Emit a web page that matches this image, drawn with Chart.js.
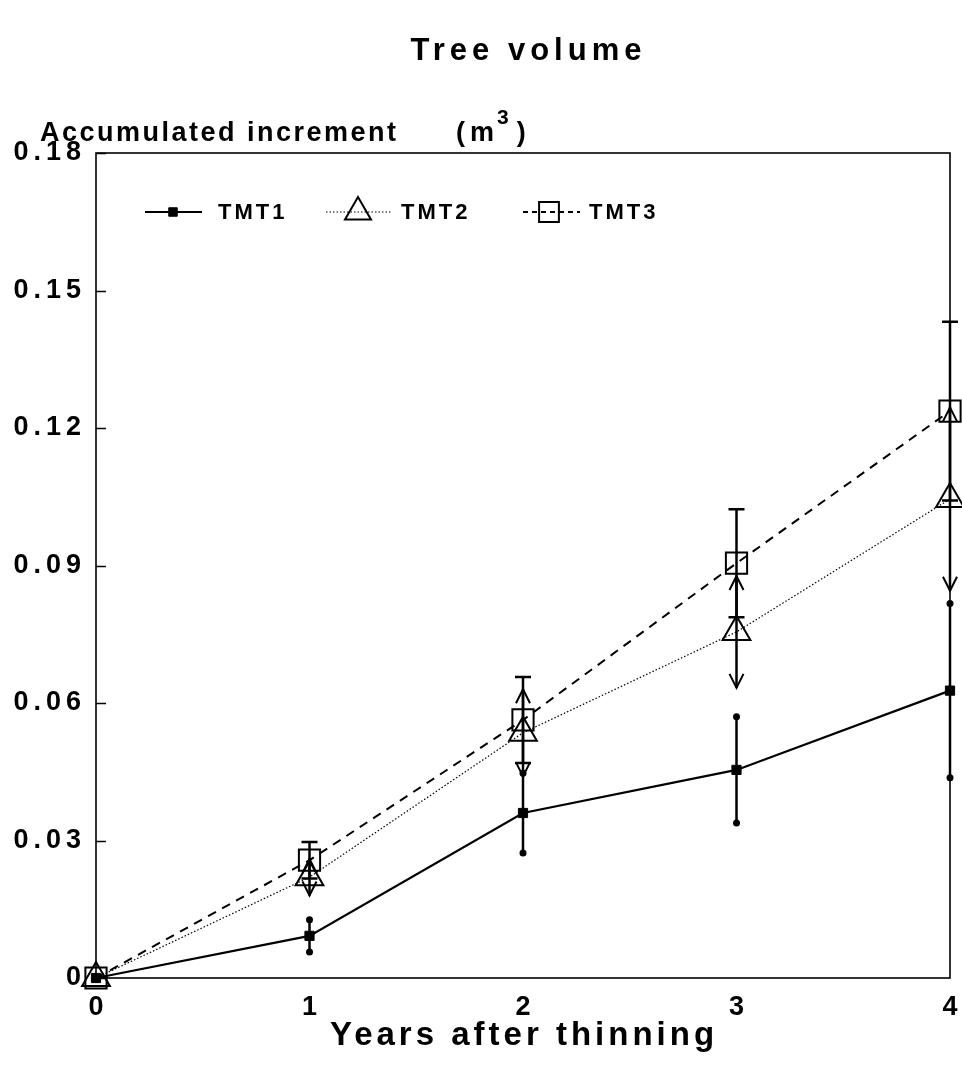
<!DOCTYPE html>
<html>
<head>
<meta charset="utf-8">
<script src="https://cdn.jsdelivr.net/npm/chart.js@4"></script>
<style>
  html, body { margin: 0; padding: 0; background: #fff; }
  #wrap { width: 962px; height: 1075px; }
</style>
</head>
<body>
<div id="wrap"><canvas id="c" width="962" height="1075"></canvas></div>
<script>
// Years after thinning
const years = [0, 1, 2, 3, 4];

// Accumulated volume increment (m3) per treatment
const tmt1 = [0, 0.0092, 0.0360, 0.0454, 0.0627];
const tmt2 = [0, 0.0220, 0.0535, 0.0755, 0.1045];
const tmt3 = [0, 0.0257, 0.0563, 0.0905, 0.1237];

// Half-widths of the error bars
const tmt1Err = [0, 0.0035, 0.0087, 0.0116, 0.0190];
const tmt2Err = [0, 0.0040, 0.0095, 0.0122, 0.0200];
const tmt3Err = [0, 0.0040, 0.0094, 0.0118, 0.0195];

const yTicks = [0, 0.03, 0.06, 0.09, 0.12, 0.15, 0.18];
const xTicks = [0, 1, 2, 3, 4];

const seriesNames = ['TMT1', 'TMT2', 'TMT3'];

const FONT = '"Liberation Sans", Arial, sans-serif';

// plot frame edges on the page
const FRAME = { left: 96, right: 950, top: 153, bottom: 978 };

function pts(vals) { return years.map((x, i) => ({ x: x, y: vals[i] })); }

// Wide tracking for the tick labels
const tracking = {
  id: 'tracking',
  beforeDraw(chart) { chart.ctx.letterSpacing = '5px'; },
  beforeDatasetsDraw(chart) { chart.ctx.letterSpacing = '0px'; }
};

// Keep the plot frame at fixed page edges
const frameFix = {
  id: 'frameFix',
  afterLayout(chart) {
    const a = chart.chartArea, xs = chart.scales.x;
    a.right = FRAME.right; a.width = FRAME.right - a.left;
    xs.right = FRAME.right; xs.width = FRAME.right - xs.left;
    xs.configure();
  }
};

// Error bars, each series with its own end style
const errorBars = {
  id: 'errorBars',
  afterDatasetsDraw(chart) {
    const ctx = chart.ctx, xs = chart.scales.x, ys = chart.scales.y;
    chart.data.datasets.forEach(ds => {
      const err = ds.errors;
      ds.data.forEach((p, i) => {
        if (!err[i]) return;
        const px = xs.getPixelForValue(p.x);
        const top = ys.getPixelForValue(p.y + err[i]);
        const bot = ys.getPixelForValue(p.y - err[i]);
        ctx.save();
        ctx.strokeStyle = '#000'; ctx.fillStyle = '#000';
        ctx.lineWidth = 2.5;
        ctx.beginPath(); ctx.moveTo(px, top); ctx.lineTo(px, bot); ctx.stroke();
        if (ds.errStyle === 'dot') {
          [top, bot].forEach(yy => { ctx.beginPath(); ctx.arc(px, yy, 3.5, 0, Math.PI * 2); ctx.fill(); });
        } else if (ds.errStyle === 'arrow') {
          ctx.lineWidth = 2;
          ctx.beginPath();
          ctx.moveTo(px - 7, top + 14); ctx.lineTo(px, top); ctx.lineTo(px + 7, top + 14);
          ctx.moveTo(px - 7, bot - 14); ctx.lineTo(px, bot); ctx.lineTo(px + 7, bot - 14);
          ctx.stroke();
        } else {
          ctx.lineWidth = 2.5;
          ctx.beginPath();
          ctx.moveTo(px - 8, top); ctx.lineTo(px + 8, top);
          ctx.moveTo(px - 8, bot); ctx.lineTo(px + 8, bot);
          ctx.stroke();
        }
        ctx.restore();
      });
    });
  }
};

// Frame, inward ticks, titles and legend
const decor = {
  id: 'decor',
  afterDraw(chart) {
    const ctx = chart.ctx, a = chart.chartArea, ys = chart.scales.y;
    ctx.save();
    ctx.strokeStyle = '#000'; ctx.lineWidth = 1.6;
    ctx.strokeRect(a.left, a.top, a.right - a.left, a.bottom - a.top);
    ctx.beginPath();
    yTicks.forEach(v => {
      const py = Math.round(ys.getPixelForValue(v)) + 0.5;
      ctx.moveTo(a.left, py); ctx.lineTo(a.left + 10, py);
    });
    ctx.lineWidth = 1.4;
    ctx.stroke();

    ctx.fillStyle = '#000';
    ctx.textBaseline = 'alphabetic';
    ctx.textAlign = 'left';

    ctx.letterSpacing = '5px';
    ctx.font = 'bold 31px ' + FONT;
    let w = ctx.measureText('Tree volume').width;
    ctx.fillText('Tree volume', 526 - (w - 5) / 2, 60);

    ctx.letterSpacing = '4px';
    ctx.font = 'bold 33px ' + FONT;
    w = ctx.measureText('Years after thinning').width;
    ctx.fillText('Years after thinning', 522 - (w - 4) / 2, 1045);

    ctx.letterSpacing = '2.5px';
    ctx.font = 'bold 27px ' + FONT;
    ctx.fillText('Accumulated increment', 40, 141);
    ctx.letterSpacing = '5px';
    ctx.fillText('(m', 456, 141);
    w = ctx.measureText('(m').width;
    ctx.font = 'bold 21px ' + FONT;
    ctx.fillText('3', 456 + w - 2, 124);
    const w3 = ctx.measureText('3').width;
    ctx.font = 'bold 27px ' + FONT;
    ctx.fillText(')', 456 + w + w3 + 1, 141);

    // legend
    const ly = 212;
    const items = [
      { x0: 145, x1: 202, mx: 173, text: 218, dash: [] },
      { x0: 326, x1: 392, mx: 358, text: 401, dash: [1.5, 2] },
      { x0: 523, x1: 580, mx: 549, text: 589, dash: [5, 4] }
    ];
    ctx.letterSpacing = '3px';
    chart.data.datasets.forEach((ds, i) => {
      const it = items[i];
      ctx.save();
      ctx.strokeStyle = '#000';
      ctx.lineWidth = ds.borderWidth;
      ctx.setLineDash(it.dash);
      ctx.beginPath(); ctx.moveTo(it.x0, ly); ctx.lineTo(it.x1, ly); ctx.stroke();
      ctx.restore();
      ctx.save();
      ctx.fillStyle = ds.pointBackgroundColor;
      ctx.strokeStyle = '#000';
      ctx.lineWidth = ds.pointBorderWidth;
      Chart.helpers.drawPoint(ctx, {
        pointStyle: ds.pointStyle, radius: ds.legendRadius, borderWidth: ds.pointBorderWidth, rotation: 0
      }, it.mx, ly);
      ctx.restore();
      ctx.fillStyle = '#000';
      ctx.font = 'bold 22px ' + FONT;
      ctx.textBaseline = 'middle';
      ctx.fillText(seriesNames[i], it.text, ly + 1);
    });
    ctx.restore();
  }
};

new Chart(document.getElementById('c'), {
  type: 'line',
  data: {
    datasets: [
      {
        label: seriesNames[0], data: pts(tmt1), errors: tmt1Err, errStyle: 'dot',
        borderColor: '#000', borderWidth: 2.2, backgroundColor: '#000', clip: false,
        pointStyle: 'rect', pointRadius: 6.5, pointBorderWidth: 1, legendRadius: 6,
        pointBackgroundColor: '#000', pointBorderColor: '#000'
      },
      {
        label: seriesNames[1], data: pts(tmt2), errors: tmt2Err, errStyle: 'arrow',
        borderColor: '#000', borderWidth: 1.2, borderDash: [1.5, 2], clip: false,
        pointStyle: 'triangle', pointRadius: 16, pointBorderWidth: 2, legendRadius: 15,
        pointBackgroundColor: 'rgba(0,0,0,0)', pointBorderColor: '#000'
      },
      {
        label: seriesNames[2], data: pts(tmt3), errors: tmt3Err, errStyle: 'cap',
        borderColor: '#000', borderWidth: 2, borderDash: [9, 7], clip: false,
        pointStyle: 'rect', pointRadius: 15, pointBorderWidth: 2, legendRadius: 14,
        pointBackgroundColor: 'rgba(0,0,0,0)', pointBorderColor: '#000'
      }
    ]
  },
  options: {
    responsive: false,
    animation: false,
    layout: { padding: { left: 0, top: FRAME.top, right: 962 - FRAME.right, bottom: 1075 - FRAME.bottom - 60 } },
    plugins: { legend: { display: false }, title: { display: false }, tooltip: { enabled: false } },
    scales: {
      x: {
        type: 'linear', min: 0, max: 4,
        grid: { display: false }, border: { display: false },
        afterBuildTicks: s => { s.ticks = xTicks.map(v => ({ value: v })); },
        afterFit: s => { s.height = 60; s.paddingLeft = 0; s.paddingRight = 0; },
        ticks: { color: '#000', padding: 5, labelOffset: 2.5, font: { family: FONT, size: 27, weight: 'bold' }, callback: v => String(v) }
      },
      y: {
        min: 0, max: 0.18,
        grid: { display: false }, border: { display: false },
        afterBuildTicks: s => { s.ticks = yTicks.map(v => ({ value: v })); },
        afterFit: s => { s.width = 96; s.paddingTop = 0; s.paddingBottom = 0; },
        ticks: { color: '#000', padding: 2, font: { family: FONT, size: 27, weight: 'bold' },
          callback: v => v === 0 ? '0' : v.toFixed(2) }
      }
    }
  },
  plugins: [tracking, frameFix, errorBars, decor]
});
</script>
</body>
</html>
